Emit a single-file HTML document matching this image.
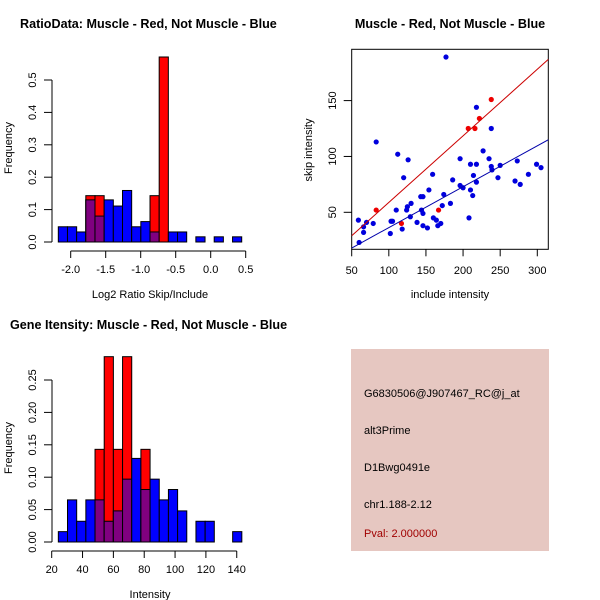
<!DOCTYPE html>
<html><head><meta charset="utf-8">
<style>
html,body{margin:0;padding:0;background:#fff;}
svg{display:block;font-family:"Liberation Sans",Arial,sans-serif;}
</style></head>
<body>
<svg id="c" width="600" height="600" xmlns="http://www.w3.org/2000/svg">
<rect width="600" height="600" fill="#fff"/>
<text x="20" y="28" font-size="12.6" font-weight="bold">RatioData: Muscle - Red, Not Muscle - Blue</text>
<text x="450" y="28" font-size="12.6" font-weight="bold" text-anchor="middle">Muscle - Red, Not Muscle - Blue</text>
<text x="10" y="329" font-size="12.6" font-weight="bold">Gene Itensity: Muscle - Red, Not Muscle - Blue</text>
<text x="150" y="298" font-size="11" text-anchor="middle">Log2 Ratio Skip/Include</text>
<text x="12" y="148" font-size="11" text-anchor="middle" transform="rotate(-90 12 148)">Frequency</text>
<text x="450" y="298" font-size="11" text-anchor="middle">include intensity</text>
<text x="312" y="150" font-size="11" text-anchor="middle" transform="rotate(-90 312 150)">skip intensity</text>
<text x="150" y="598" font-size="11" text-anchor="middle">Intensity</text>
<text x="12" y="448" font-size="11" text-anchor="middle" transform="rotate(-90 12 448)">Frequency</text>
<g>
<rect x="351" y="349" width="198" height="202" fill="#e6c7c1"/>
<text x="364" y="397" font-size="11">G6830506@J907467_RC@j_at</text>
<text x="364" y="434" font-size="11">alt3Prime</text>
<text x="364" y="471" font-size="11">D1Bwg0491e</text>
<text x="364" y="508" font-size="11">chr1.188-2.12</text>
<text x="364" y="537" font-size="11" fill="#a00000">Pval: 2.000000</text>
</g>
</svg>
<script>
// ---- Ratio histogram data ----
const ratioStart = -2.177;
const ratioBinWidth = 0.131;
const ratioBlue = [0.047,0.047,0.031,0.13,0.08,0.13,0.111,0.159,0.047,0.063,0.031,0,0.031,0.031,0,0.016,0,0.016,0,0.016];
const ratioRed  = [0,0,0,0.143,0.143,0,0,0,0,0,0.143,0.571,0,0,0,0,0,0,0,0];
const ratioXTicks = [-2.0,-1.5,-1.0,-0.5,0.0,0.5];
const ratioXTickLabels = ["-2.0","-1.5","-1.0","-0.5","0.0","0.5"];
const ratioYTicks = [0,0.1,0.2,0.3,0.4,0.5];
const ratioYTickLabels = ["0.0","0.1","0.2","0.3","0.4","0.5"];
// ---- Intensity histogram data ----
const intStart = 24.3;
const intBinWidth = 5.95;
const intBlue = [0.016,0.065,0.032,0.065,0.065,0.032,0.048,0.097,0.129,0.081,0.097,0.065,0.081,0.048,0,0.032,0.032,0,0,0.016];
const intRed  = [0,0,0,0,0.143,0.286,0.143,0.286,0,0.143,0,0,0,0,0,0,0,0,0,0];
const intXTicks = [20,40,60,80,100,120,140];
const intXTickLabels = ["20","40","60","80","100","120","140"];
const intYTicks = [0,0.05,0.1,0.15,0.2,0.25];
const intYTickLabels = ["0.00","0.05","0.10","0.15","0.20","0.25"];
// ---- Scatter data ----
const blueX = [59,60,66,66,70,79,83,102,103,105,110,112,118,120,124,125,126,129,130,138,143,146,144,146,146,152,154,159,160,164,166,170,172,174,177,183,186,196,196,200,208,210,210,213,214,218,218,218,227,235,238,238,239,247,250,270,273,277,288,299,305];
const blueY = [43,23,32,37,41,40,113,31,42,42,52,102,35,81,52,55,97,46,58,41,64,64,52,49,38,36,70,84,45,43,38,40,56,66,189,58,79,98,74,72,45,70,93,65,83,144,93,77,105,98,125,91,88,81,92,78,96,75,84,93,90];
const redX = [83,117,167,207,216,222,238];
const redY = [52,40,52,125,125,134,151];
const redLine = [[50,29],[315,187]];
const blueLine = [[50,18],[315,115]];
const scXTicks = [50,100,150,200,250,300];
const scXTickLabels = ["50","100","150","200","250","300"];
const scYTicks = [50,100,150];
const scYTickLabels = ["50","100","150"];

const svg = document.getElementById('c');
const NS = 'http://www.w3.org/2000/svg';
function mk(tag, attrs){const e=document.createElementNS(NS,tag);for(const k in attrs)e.setAttribute(k,attrs[k]);svg.appendChild(e);return e;}

function drawHist(o){
  const xs=v=>o.x0px+(v-o.x0)*o.xs, ys=v=>o.y0px-v*o.ys;
  for(let i=0;i<o.blue.length;i++){
    const a=xs(o.start+i*o.bw), b=xs(o.start+(i+1)*o.bw);
    const bl=o.blue[i], rd=o.red[i];
    if(bl>0){const r=mk('rect',{x:a,y:ys(bl),width:b-a,height:ys(0)-ys(bl),fill:'#0000ff',stroke:'#000','stroke-width':1});
      
      }
    if(rd>0){const r=mk('rect',{x:a,y:ys(rd),width:b-a,height:ys(0)-ys(rd),fill:'#ff0000',stroke:'#000','stroke-width':1});
      
      }
    const m=Math.min(bl,rd);
    if(m>0){const r=mk('rect',{x:a,y:ys(m),width:b-a,height:ys(0)-ys(m),fill:'#800080',stroke:'#000','stroke-width':1});
      
      }
  }
  const xa=mk('line',{x1:xs(o.xt[0]),x2:xs(o.xt[o.xt.length-1]),y1:o.xAxisY,y2:o.xAxisY,stroke:'#000'});
  
  
  o.xt.forEach((v,i)=>{mk('line',{x1:xs(v),x2:xs(v),y1:o.xAxisY,y2:o.xAxisY+7,stroke:'#000'});
    const t=mk('text',{x:xs(v),y:o.xAxisY+22,'font-size':11,'text-anchor':'middle'});t.textContent=o.xl[i];
    
    });
  const ya=mk('line',{x1:o.yAxisX,x2:o.yAxisX,y1:ys(o.yt[0]),y2:ys(o.yt[o.yt.length-1]),stroke:'#000'});
  
  
  o.yt.forEach((v,i)=>{mk('line',{x1:o.yAxisX-8,x2:o.yAxisX,y1:ys(v),y2:ys(v),stroke:'#000'});
    const tx=o.yAxisX-16, ty=ys(v);
    const t=mk('text',{x:tx,y:ty,'font-size':11,'text-anchor':'middle',transform:'rotate(-90 '+tx+' '+ty+')'});t.textContent=o.yl[i];
    
    });
}
drawHist({p:'ratio',start:ratioStart,bw:ratioBinWidth,blue:ratioBlue,red:ratioRed,x0:-2,x0px:70.7,xs:70,y0px:242,ys:324,
  xt:ratioXTicks,xl:ratioXTickLabels,yt:ratioYTicks,yl:ratioYTickLabels,xAxisY:251,yAxisX:52});
drawHist({p:'intensity',start:intStart,bw:intBinWidth,blue:intBlue,red:intRed,x0:20,x0px:51.7,xs:1.542,y0px:542,ys:648,
  xt:intXTicks,xl:intXTickLabels,yt:intYTicks,yl:intYTickLabels,xAxisY:551,yAxisX:52});

// scatter
const sx=v=>351.7+(v-50)*0.7424, sy=v=>212.3-(v-50)*1.117;
const defs=mk('defs',{});
const cp=document.createElementNS(NS,'clipPath');cp.setAttribute('id','scclip');defs.appendChild(cp);
const cr=document.createElementNS(NS,'rect');cr.setAttribute('x',351.7);cr.setAttribute('y',49.3);cr.setAttribute('width',196.6);cr.setAttribute('height',200);cp.appendChild(cr);
const box=mk('rect',{x:351.7,y:49.3,width:196.6,height:200,fill:'none',stroke:'#000'});


blueX.forEach((v,i)=>{const c=mk('circle',{cx:sx(v),cy:sy(blueY[i]),r:2.6,fill:'#0000dd'});
  
  });
redX.forEach((v,i)=>{const c=mk('circle',{cx:sx(v),cy:sy(redY[i]),r:2.6,fill:'#ee0000'});
  
  });
const rl=mk('line',{x1:sx(redLine[0][0]),y1:sy(redLine[0][1]),x2:sx(redLine[1][0]),y2:sy(redLine[1][1]),stroke:'#cc0000','clip-path':'url(#scclip)'});


const bl=mk('line',{x1:sx(blueLine[0][0]),y1:sy(blueLine[0][1]),x2:sx(blueLine[1][0]),y2:sy(blueLine[1][1]),stroke:'#0000aa','clip-path':'url(#scclip)'});


scXTicks.forEach((v,i)=>{mk('line',{x1:sx(v),x2:sx(v),y1:249.3,y2:256.3,stroke:'#000'});
  const t=mk('text',{x:sx(v),y:274,'font-size':11,'text-anchor':'middle'});t.textContent=scXTickLabels[i];
  
  });
scYTicks.forEach((v,i)=>{mk('line',{x1:343.7,x2:351.7,y1:sy(v),y2:sy(v),stroke:'#000'});
  const tx=336, ty=sy(v);
  const t=mk('text',{x:tx,y:ty,'font-size':11,'text-anchor':'middle',transform:'rotate(-90 '+tx+' '+ty+')'});t.textContent=scYTickLabels[i];
  
  });
</script>
</body></html>
